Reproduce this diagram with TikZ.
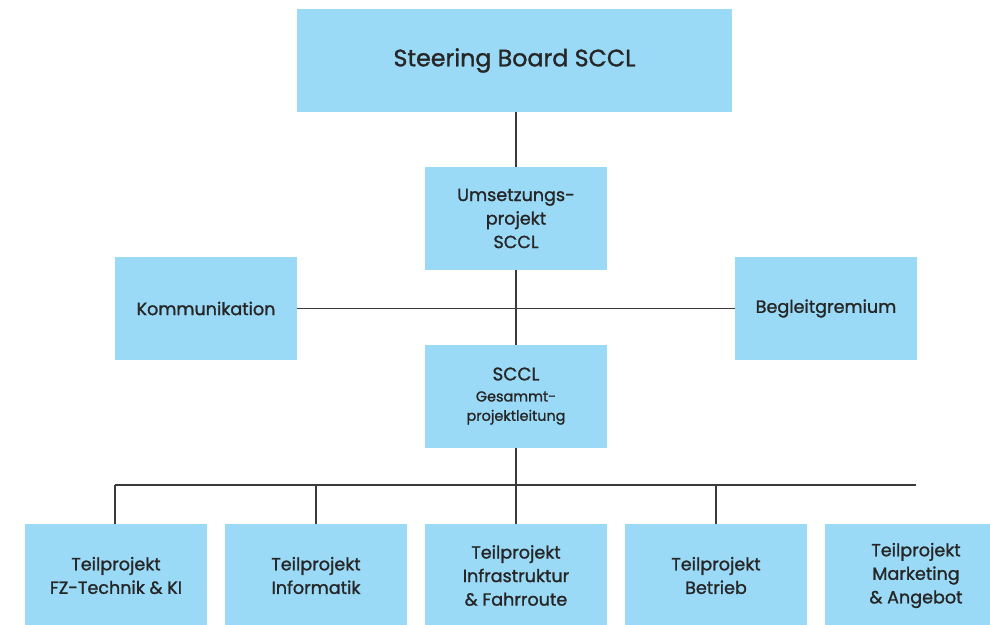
\documentclass[tikz,border=0pt]{standalone}
\usepackage{fontspec}
\setmainfont{Poppins}[BoldFont={Poppins}, BoldFeatures={FakeBold=1.3}]
\usepackage{xcolor}
\usetikzlibrary{
		calc,
		positioning
	}
\definecolor{boxblue}{HTML}{9BDAF7}
\definecolor{linegray}{HTML}{3A3A3A}
\tikzset{
		box/.style={fill=boxblue, draw=none, minimum width=3.64cm, minimum height=2.06cm,
			align=center, text=black!85, font=\fontsize{10}{13.4}\selectfont\bfseries},
		link/.style={draw=linegray, line width=0.6pt}
	}

\begin{document}
\begin{tikzpicture}[x=0.02cm, y=-0.02cm]
        \useasboundingbox (0,0) rectangle (990,625);
        \clip (0,0) rectangle (990,625);

        % the top of the chart
        \node[box, minimum width=8.7cm, font=\fontsize{13.5}{16}\selectfont\bfseries] (steering) at (514.5,60.5) {Steering Board SCCL};
        \node[box] (umsetzung) at (516,218.5) {Umsetzungs-\\projekt\\SCCL};

        % the two boxes on the side
        \node[box] (komm) at (206,308.5) {Kommunikation};
        \node[box] (begleit) at (826,308.5) {Begleitgremium};

        % the overall lead
        \node[box, text height=0pt] (gesamt) at (516,396.5) {};
        \node[font=\fontsize{10.4}{13}\selectfont\bfseries, text=black!85] (gesamttitle) at (516,374) {SCCL};
        \node[font=\fontsize{8.2}{11}\selectfont\bfseries, text=black!85, align=center] (gesamttext) at (516,408) {Gesammt-\\projektleitung};

        % the sub projects (the last one runs over the edge)
        \node[box] (tp1) at (116,575.5) {Teilprojekt\\FZ-Technik \& KI};
        \node[box] (tp2) at (316,575.5) {Teilprojekt\\Informatik};
        \node[box] (tp3) at (516,575.5) {Teilprojekt\\Infrastruktur\\\& Fahrroute};
        \node[box] (tp4) at (716,575.5) {Teilprojekt\\Betrieb};
        \node[box] (tp5) at (916,575.5) {Teilprojekt\\Marketing\\\& Angebot};

        % the lines
        \draw[link] (umsetzung.north) -- (umsetzung.north |- steering.south);
        \draw[link] (umsetzung.south) -- (gesamt.north);
        \draw[link] (komm.east) -- (begleit.west);

        \coordinate (busL) at (115,485);
        \coordinate (busR) at (916,485);
        \draw[link] (busL) -- (busR);
        \draw[link] (gesamt.south) -- (gesamt.south |- busL);
        \draw[link] (busL) -- (busL |- tp1.north);
        \foreach \t in {tp2,tp3,tp4}
            \draw[link] (\t.north) -- (\t.north |- busL);

    \end{tikzpicture}
\end{document}
